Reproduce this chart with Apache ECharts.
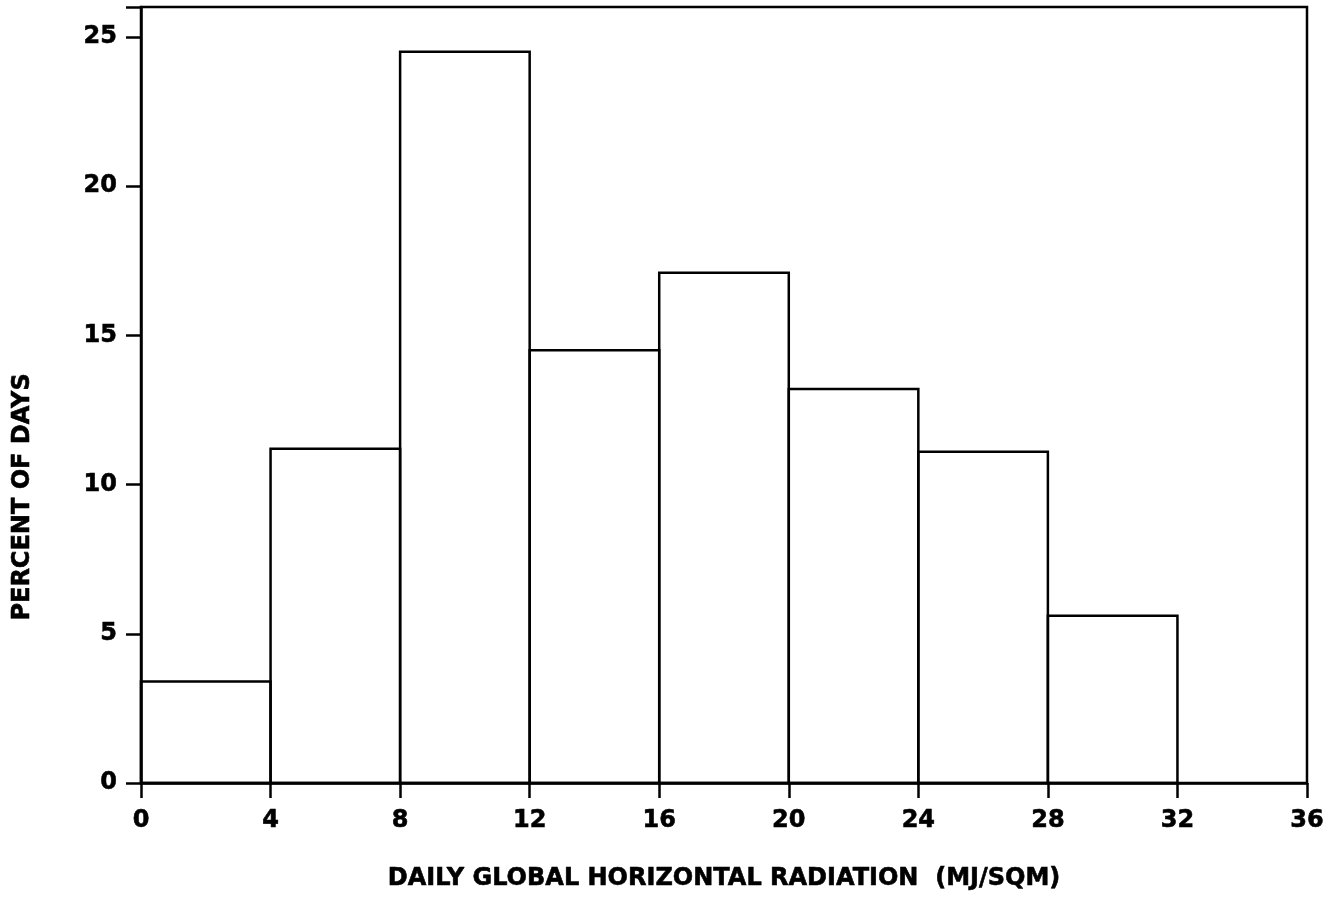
<!DOCTYPE html>
<html>
<head>
<meta charset="utf-8">
<script src="https://cdn.jsdelivr.net/npm/echarts@6/dist/echarts.min.js"></script>
<style>
html,body{margin:0;padding:0;background:#fff;}
#chart{width:1334px;height:899px;}
</style>
</head>
<body>
<div id="chart"></div>
<script>
// Bin edges (MJ/SQM) and percent of days
var binStarts = [0, 4, 8, 12, 16, 20, 24, 28];
var binEnds   = [4, 8, 12, 16, 20, 24, 28, 32];
var percents  = [3.4, 11.2, 24.5, 14.5, 17.1, 13.2, 11.1, 5.6];
var xTicks = [0, 4, 8, 12, 16, 20, 24, 28, 32, 36];
var yTicks = [0, 5, 10, 15, 20, 25];
var xTitle = 'DAILY GLOBAL HORIZONTAL RADIATION  (MJ/SQM)';
var yTitle = 'PERCENT OF DAYS';

var data = binStarts.map(function (s, i) { return [s, binEnds[i], percents[i]]; });
var FONT = '"DejaVu Sans", sans-serif';
var heavy = { textBorderColor: '#000', textBorderWidth: 0.6 };

var chart = echarts.init(document.getElementById('chart'));
chart.setOption({
  animation: false,
  backgroundColor: '#fff',
  grid: { left: 141, right: 27, top: 7, bottom: 116, show: true, borderColor: '#000', borderWidth: 2.5, backgroundColor: 'transparent' },
  xAxis: {
    type: 'value', min: xTicks[0], max: xTicks[xTicks.length - 1], interval: 4,
    axisLine: { show: true, lineStyle: { color: '#000', width: 2.5 } },
    axisTick: { show: true, inside: false, length: 15, lineStyle: { color: '#000', width: 2.5 } },
    axisLabel: Object.assign({ color: '#000', fontFamily: FONT, fontWeight: 'bold', fontSize: 24, margin: 26 }, heavy),
    splitLine: { show: false },
    name: xTitle, nameLocation: 'middle', nameGap: 84,
    nameTextStyle: Object.assign({ color: '#000', fontFamily: FONT, fontWeight: 'bold', fontSize: 24 }, heavy)
  },
  yAxis: {
    type: 'value', min: 0, max: 26, interval: 5,
    axisLine: { show: true, lineStyle: { color: '#000', width: 2.5 } },
    axisTick: { show: true, inside: false, length: 15, lineStyle: { color: '#000', width: 2.5 } },
    axisLabel: Object.assign({ color: '#000', fontFamily: FONT, fontWeight: 'bold', fontSize: 24, margin: 24,
      formatter: function (v) { return yTicks.indexOf(v) >= 0 ? String(v) : ''; } }, heavy),
    splitLine: { show: false }
  },
  graphic: [{
    type: 'text', left: 10, top: 373,
    rotation: Math.PI / 2,
    style: { text: yTitle, fill: '#000', stroke: '#000', lineWidth: 0.6, font: 'bold 24px ' + FONT }
  }],
  series: [{
    type: 'custom',
    data: data,
    renderItem: function (params, api) {
      var p0 = api.coord([api.value(0), 0]);
      var p1 = api.coord([api.value(1), api.value(2)]);
      return {
        type: 'rect',
        shape: { x: p0[0], y: p1[1], width: p1[0] - p0[0], height: p0[1] - p1[1] },
        style: { fill: 'none', stroke: '#000', lineWidth: 2.5 }
      };
    },
    encode: { x: [0, 1], y: 2 }
  }]
});
</script>
</body>
</html>
